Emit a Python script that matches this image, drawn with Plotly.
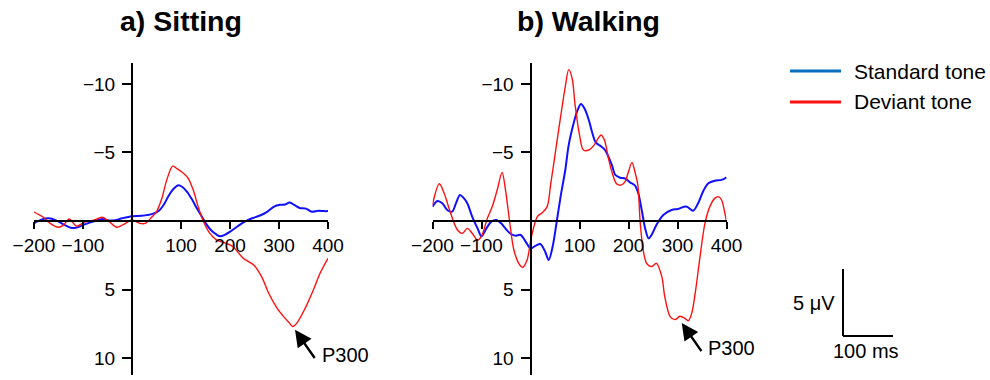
import plotly.graph_objects as go

# ---- ERP waveforms (time in ms, amplitude in microvolts; negative plotted upward) ----
sit_std_t = [-200, -185, -170, -155, -140, -125, -115, -100, -85, -70, -60, -50, -35, -20, 0, 20, 40,
             55, 65, 75, 85, 95, 102, 112, 122, 132, 142, 152, 162, 172, 180, 190, 200, 215, 230,
             245, 260, 275, 290, 302, 312, 322, 332, 342, 355, 367, 380, 392, 400]
sit_std_v = [0.17, -0.1, -0.2, -0.05, 0.25, 0.5, 0.5, 0.3, 0.1, -0.05, -0.15, -0.05, -0.05, -0.2, -0.35,
             -0.38, -0.5, -0.75, -1.2, -1.85, -2.35, -2.6, -2.5, -2.15, -1.6, -0.95, -0.35, 0.25, 0.7,
             0.98, 1.12, 1.0, 0.78, 0.4, 0.05, -0.2, -0.38, -0.65, -1.05, -1.18, -1.2, -1.35, -1.15,
             -0.95, -0.9, -0.68, -0.75, -0.72, -0.72]

sit_dev_t = [-200, -181, -167, -150, -140, -128, -113, -96, -78, -61, -48, -31, -18, 0, 16, 27, 40, 50,
             61, 71, 83, 91, 105, 115, 125, 135, 146, 159, 173, 186, 200, 207, 227, 248, 265, 278,
             295, 310, 320, 328, 336, 353, 370, 384, 400]
sit_dev_v = [-0.65, -0.27, 0.17, 0.46, 0.3, -0.15, 0.37, 0.07, -0.05, -0.27, 0.0, 0.46, 0.27, -0.07,
             0.17, 0.17, -0.27, -0.68, -1.66, -3.0, -4.0, -3.84, -3.48, -3.1, -2.26, -1.05, 0.05, 0.9,
             1.39, 1.55, 1.75, 1.9, 2.72, 3.2, 4.1, 5.2, 6.3, 7.0, 7.4, 7.7, 7.47, 6.4, 5.04, 3.8, 2.72]

walk_std_t = [-200, -190, -180, -170, -160, -152, -144, -137, -129, -119, -108, -100, -90, -80, -70,
              -60, -50, -40, -30, -20, -10, 0, 10, 20, 30, 37, 45, 54, 62, 71, 78, 88, 95, 103, 110,
              119, 125, 133, 142, 152, 159, 166, 173, 183, 193, 203, 213, 220, 227, 234, 241, 247,
              257, 271, 288, 301, 318, 332, 342, 352, 363, 376, 390, 400]
walk_std_v = [-1.05, -1.46, -1.29, -0.8, -0.68, -1.3, -1.9, -1.7, -1.29, -0.32, 0.54, 1.12, 0.54, 0.05,
              -0.07, 0.17, 0.6, 0.95, 1.07, 1.02, 1.5, 2.0, 1.82, 1.68, 2.24, 2.85, 1.9, -0.07, -1.9,
              -3.72, -5.55, -7.13, -7.98, -8.54, -8.22, -7.37, -6.57, -5.74, -5.5, -5.18, -4.7, -4.09,
              -3.36, -3.16, -3.1, -2.82, -2.6, -2.02, -0.8, 0.54, 1.27, 1.02, 0.29, -0.44, -0.8,
              -0.88, -1.05, -0.75, -1.29, -2.14, -2.75, -2.94, -3.0, -3.19]

walk_dev_t = [-200, -186, -176, -163, -149, -139, -129, -119, -108, -100, -88, -78, -68, -58, -51, -43,
              -34, -24, -16, -7, 2, 14, 24, 34, 41, 51, 61, 71, 78, 85, 91, 100, 108, 119, 129, 139,
              144, 151, 159, 168, 176, 186, 193, 200, 207, 213, 219, 224, 230, 237, 247, 257, 268,
              274, 285, 295, 305, 315, 322, 329, 337, 346, 356, 366, 376, 383, 390, 396, 400]
walk_dev_v = [-1.2, -2.72, -2.0, -0.56, 0.66, 0.9, 0.54, 0.9, 1.39, 1.1, -0.2, -1.05, -2.26, -3.55,
              -2.26, -0.07, 2.1, 3.09, 3.38, 2.85, 1.14, -0.32, -0.6, -1.05, -2.63, -5.06, -7.5, -9.8,
              -11.05, -10.4, -8.47, -6.28, -5.18, -5.18, -5.5, -6.08, -6.28, -5.9, -4.57, -3.36, -2.7,
              -2.63, -2.87, -3.6, -4.28, -3.6, -2.63, 0.17, 2.12, 3.09, 3.33, 3.09, 4.06, 5.52, 6.98,
              7.2, 6.95, 7.1, 7.28, 6.74, 5.04, 2.6, 0.17, -1.05, -1.65, -1.78, -1.53, -0.68, 0.05]

panel_titles = ["a) Sitting", "b) Walking"]
series_names = ["Standard tone", "Deviant tone"]
x_tickvals = [-200, -100, 100, 200, 300, 400]
x_ticktext = ["\u2212200", "\u2212100", "100", "200", "300", "400"]
y_tickvals = [-10, -5, 5, 10]
y_ticktext = ["\u221210", "\u22125", "5", "10"]
peak_label = "P300"
peaks = [(328, 7.7), (304, 7.2)]          # arrowed component in each panel
scale_labels = ["5 \u03bcV", "100 ms"]

# ---- layout geometry (pixels in a 990 x 380 canvas) ----
W, H = 990, 380
FONT = "Liberation Sans, Arial, sans-serif"
X_RANGE = [-200, 400]
Y_RANGE = [11.24, -11.53]                # reversed: negative up
px_domains = [(34, 328), (432.5, 726.5)]
py_top, py_bot = 63, 375
y_dom = [(H - py_bot) / H, (H - py_top) / H]

STD_COLOR = "#1010ff"
DEV_COLOR = "#ff1010"


def paper_x(px):
    return px / W


def paper_y(py):
    return (H - py) / H


fig = go.Figure()
panels = [(sit_std_t, sit_std_v, sit_dev_t, sit_dev_v), (walk_std_t, walk_std_v, walk_dev_t, walk_dev_v)]

for i, (st, sv, dt, dv) in enumerate(panels):
    xa = "x" if i == 0 else "x2"
    ya = "y" if i == 0 else "y2"
    fig.add_trace(go.Scatter(x=st, y=sv, mode="lines", name=series_names[0], xaxis=xa, yaxis=ya,
                             line=dict(color=STD_COLOR, width=2, shape="spline", smoothing=0.9),
                             showlegend=False))
    fig.add_trace(go.Scatter(x=dt, y=dv, mode="lines", name=series_names[1], xaxis=xa, yaxis=ya,
                             line=dict(color=DEV_COLOR, width=1.4, shape="spline", smoothing=0.9),
                             showlegend=False))

    d0, d1 = px_domains[i]
    xdom = [paper_x(d0), paper_x(d1)]
    # paper position of the zero lines, where the axes cross
    frac0 = (0 - Y_RANGE[0]) / (Y_RANGE[1] - Y_RANGE[0])
    x_axis_pos = y_dom[0] + frac0 * (y_dom[1] - y_dom[0])
    y_axis_pos = xdom[0] + (0 - X_RANGE[0]) / (X_RANGE[1] - X_RANGE[0]) * (xdom[1] - xdom[0])

    xkey = "xaxis" if i == 0 else "xaxis2"
    ykey = "yaxis" if i == 0 else "yaxis2"
    fig.layout[xkey] = dict(domain=xdom, range=X_RANGE, anchor="free", position=x_axis_pos,
                            automargin=False,
                            showline=True, linecolor="black", linewidth=2, showgrid=False,
                            zeroline=False, ticks="outside", ticklen=7, tickwidth=2,
                            tickcolor="black", tickvals=x_tickvals, ticktext=x_ticktext,
                            tickfont=dict(family=FONT, size=19, color="black"))
    fig.layout[ykey] = dict(domain=y_dom, range=Y_RANGE, anchor="free", position=y_axis_pos,
                            automargin=False,
                            showline=True, linecolor="black", linewidth=2, showgrid=False,
                            zeroline=False, ticks="outside", ticklen=9, tickwidth=2,
                            tickcolor="black", tickvals=y_tickvals, ticktext=y_ticktext,
                            ticklabelstandoff=3,
                            tickfont=dict(family=FONT, size=19, color="black"))

    # panel title
    fig.add_annotation(text="<b>%s</b>" % panel_titles[i], xref="paper", yref="paper",
                       x=paper_x([181, 588][i]), y=paper_y(21), xanchor="center", yanchor="middle",
                       showarrow=False, font=dict(family=FONT, size=28.5, color="black"))

    # P300 arrow and label
    pt, pv = peaks[i]
    fig.add_annotation(x=pt, y=pv, xref=xa, yref=ya, ax=23, ay=33, axref="pixel", ayref="pixel",
                       text="", showarrow=True, arrowhead=2, arrowsize=1.4, arrowwidth=2.4,
                       arrowcolor="black", standoff=4)
    fig.add_annotation(x=pt + 55, y=pv + 2.1, xref=xa, yref=ya, text=peak_label, showarrow=False,
                       xanchor="left", yanchor="middle",
                       font=dict(family=FONT, size=20, color="black"))

# ---- legend ----
legend_rows = [(series_names[0], "#0a6ec0", 71), (series_names[1], "#ff1010", 102)]
for name, col, py in legend_rows:
    fig.add_shape(type="line", xref="paper", yref="paper", x0=paper_x(790), x1=paper_x(841),
                  y0=paper_y(py), y1=paper_y(py), line=dict(color=col, width=3))
    fig.add_annotation(text=name, xref="paper", yref="paper", x=paper_x(852), y=paper_y(py),
                       xanchor="left", yanchor="middle", showarrow=False,
                       font=dict(family=FONT, size=21, color="black"))

# ---- calibration bar: 5 uV by 100 ms ----
bar_x, bar_y0, bar_y1, bar_x1 = 843, 269, 336, 893
fig.add_shape(type="line", xref="paper", yref="paper", x0=paper_x(bar_x), x1=paper_x(bar_x),
              y0=paper_y(bar_y0), y1=paper_y(bar_y1), line=dict(color="black", width=2))
fig.add_shape(type="line", xref="paper", yref="paper", x0=paper_x(bar_x), x1=paper_x(bar_x1),
              y0=paper_y(bar_y1), y1=paper_y(bar_y1), line=dict(color="black", width=2))
fig.add_annotation(text=scale_labels[0], xref="paper", yref="paper", x=paper_x(837), y=paper_y(303),
                   xanchor="right", yanchor="middle", showarrow=False,
                   font=dict(family=FONT, size=20, color="black"))
fig.add_annotation(text=scale_labels[1], xref="paper", yref="paper", x=paper_x(866), y=paper_y(351),
                   xanchor="center", yanchor="middle", showarrow=False,
                   font=dict(family=FONT, size=20, color="black"))

fig.update_layout(template="none", width=W, height=H, margin=dict(l=0, r=0, t=0, b=0, pad=0),
                  paper_bgcolor="white", plot_bgcolor="white", showlegend=False)

fig.write_html("out.html")
